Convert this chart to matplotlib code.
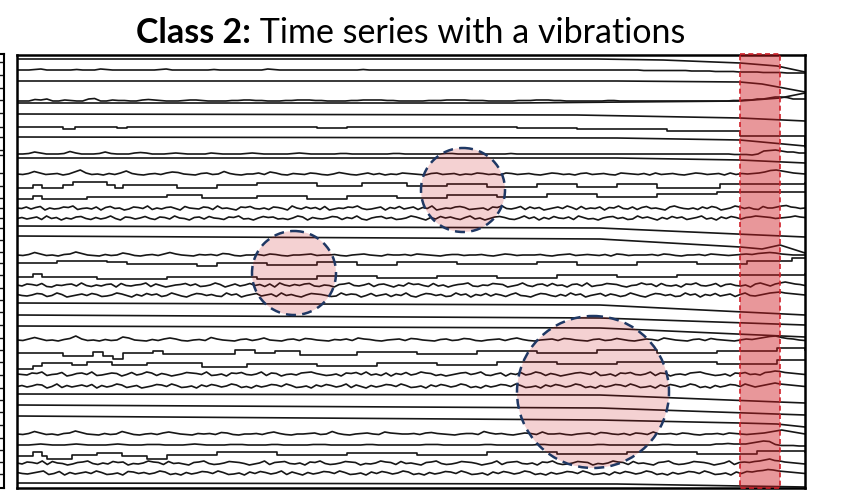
import numpy as np
import matplotlib.pyplot as plt
from matplotlib.patches import Rectangle, Circle

# time axis runs over 788 samples; channel levels are given in screen rows (top = 55)
T_END = 788

# smooth channels: (time, level) knots
flat_lines = [
    [(0, 59), (580, 59), (646, 60), (723, 63), (760, 66), (788, 72)],
    [(0, 81), (600, 81), (723, 82), (745, 84), (788, 92)],
    [(0, 103), (500, 103), (723, 101), (763, 98), (788, 93)],
    [(0, 114), (560, 115), (723, 118), (788, 121)],
    [(0, 137), (600, 138), (723, 140), (788, 146)],
    [(0, 158), (600, 158), (723, 160), (788, 163)],
    [(0, 226), (583, 228), (788, 237)],
    [(0, 236), (583, 239), (723, 247), (745, 249), (763, 245), (788, 253)],
    [(0, 303), (583, 305), (788, 315)],
    [(0, 315), (583, 318), (788, 325)],
    [(0, 326), (583, 328), (788, 337)],
    [(0, 394), (583, 395), (788, 403)],
    [(0, 405), (583, 408), (788, 415)],
    [(0, 416), (583, 420), (723, 423), (760, 424), (788, 427)],
    [(0, 483), (600, 484), (788, 487)],
]

# quantised channels: (time, level) change points
step_lines = [
    [(0, 127), (46, 129), (58, 127), (100, 128), (110, 127), (300, 128), (330, 127), (500, 128), (560, 129), (650, 131), (723, 136), (788, 147)],
    [(0, 188), (16, 185), (25, 188), (46, 185), (56, 182), (90, 185), (98, 188), (106, 185), (160, 188), (200, 185), (240, 183), (300, 186), (345, 183), (390, 186), (430, 184), (470, 187), (520, 184), (560, 187), (600, 184), (640, 188), (703, 184), (788, 183)],
    [(0, 199), (16, 196), (25, 199), (70, 197), (150, 195), (185, 198), (240, 196), (290, 199), (330, 196), (380, 198), (430, 195), (480, 197), (530, 194), (580, 197), (640, 194), (700, 192), (788, 192)],
    [(0, 263), (40, 261), (90, 262), (110, 264), (180, 266), (200, 263), (250, 265), (300, 262), (340, 265), (380, 262), (440, 264), (520, 262), (560, 265), (620, 262), (680, 264), (730, 261), (775, 258), (788, 258)],
    [(0, 277), (16, 274), (25, 277), (80, 279), (150, 277), (240, 279), (300, 276), (360, 278), (420, 276), (480, 278), (540, 275), (600, 277), (660, 275), (788, 274)],
    [(0, 353), (46, 356), (76, 352), (86, 356), (96, 359), (106, 353), (136, 351), (146, 354), (218, 350), (238, 353), (258, 351), (283, 355), (340, 352), (400, 354), (460, 351), (520, 353), (580, 350), (640, 353), (700, 351), (760, 348), (788, 350)],
    [(0, 369), (16, 366), (25, 363), (55, 365), (70, 362), (95, 365), (130, 363), (185, 367), (230, 364), (300, 366), (360, 363), (420, 365), (480, 362), (540, 364), (600, 362), (700, 364), (760, 360), (788, 360)],
    [(0, 456), (16, 452), (25, 456), (30, 459), (55, 455), (80, 453), (105, 456), (130, 459), (150, 455), (200, 452), (260, 455), (330, 453), (400, 455), (470, 452), (540, 454), (610, 452), (680, 454), (740, 451), (788, 452)],
]

# sampled channels: base level + base-36 code per sample ('i' = base, one step = 0.5 row, higher = up)
wavy_base = [70, 101, 154, 445]
wavy_codes = [
    "iiijkiiiiijiiikjiiiiiiiijkiiiiiiijiiiiiiiikjiiiiiiiiiiiiiijiiiiiiiiiiiiiiiiiiiiiiiiiiiiiiiiiiiiiiiiiiiiiihhhhhhhhggggffffeeeeddddcccc",
    "iiilkmiikjiimniikjjiiklkjiiijkkjiiiijjkkjjiiijjkkkjjiiiijjkkkkjjiiiiijjjkkkkjjjiiiiijjjkkkjjiiiiiiijjiiiiiiiiiiiiiiiiiiijjkkmmoqqpmmm",
    "iijmkiiijnkiiijmjiiiklkiiijkjiiiikjiiiijkjiiiiijkjiiiiijjiiiiiiijjiiiiiiijjiiiiiiiiijiiiiiiiiiiiiiiiiiiiiiiiiiiiiiiiiiiiiihhhgiopqommkk",
    "iiijkjiiijkjiiiijkjiiijjjiiiijkjiiiijjjiiiijjiiiiijjjiiiiiijjiiiiiiiijjjiiiiiiijjiiiiiiijjiiiiiiiijjiiiiiiiiijjiiiiiiikklkkkmoqpjhhhgg",
]

spiky_base = [174, 255, 340, 434]
spiky_codes = [
    "ihjnkhijgimqkhigjhkojhgijhkmlihgjkhinjhgiikhmkhgjihkjhgiljhgikhjgihkjihgjkhijgihkjhigkjhijhgikjhigjkhijhgkjihjgkhijhgikjhijgkhjijkmpqomkji",
    "ihjnkhigjkolihgjhimkhgijhknkihgjijhlkhgiijhkjhgiijkhiijhgijkihgjiijhkjihgijjhiijhgikjhiiijhgijkhijihjgkjhiiijhkjhgiijhkjihijkjlmnmkjiii",
    "ihknkhigjlqkhigjhiomihgjhkmkhgijhnkihgjkhjmihgjkhlkihgjikhmkjhgijkhlkihgjkhilkhgijkhkmjhgijkhlkihgjkhiljhgikjhmkihgjkhljihgikjlnpqnlkih",
    "ihjnkhigjkolihgjhinkhgijhkmkihgjijhlkhgiijhkmjhgiijkhinjhgijkihmkjiijhkljihgijjhnkijhgikjhmiijhgijkhlkihjgkjhmiijhkjhgiijhkjihijkmoqomki",
]

noisy_base = [208, 218, 285, 295, 374, 386, 463, 473]
noisy_codes = [
    "ihkgjleighkjmfhigkejlhiegkjhmfigjkhelihgkjfmhigekjlhgifkjhemigkhjflegihkjmhfgikejhlgikfjhmegihkljfghiekjmhgilfkhjegikhmjflgihkejimhgkfjlhigekmjhgifkhljegimkhjgfliikmnkjhi",
    "hjgikfmhjeigklhfjgimhekjgilhfkjgmihejkglihfkjmgheiljkghfimkejhgilkfjhmgeiklhjfgimkhejglikhfjmgiehkljgfimhkejglihkfmjgheiklhjfgmikhejglikfhjmgiekhljgjkmlkjhijkmkj",
    "igkjhlfeihjkgmhfigjkelhgijmfkhegijlhkfgimjehkgilhjfkemigjhklgfihejkmhgilfjkheigmjkhflgiehjkmgfihlkjegimhfjkglhiejkgmfhilkjgehimjkflhgiekjmhgilfjkhgiekmjgkmomkjh",
    "jhgilkfhmjegikhljfgimkhejglikfhmjgeilkhjgfmikehjlgikfmhjgeilkjhfgmikjehlgikfjhmgeilkhjfgmikejhlgkifjmhgeilkhfjgmikehjlgkifhmjgeilkhjfgmikejhlgikfjmhgikmnomlkji",
    "ihgkjmfhilegjkhmfgikjehlgimkfjhegilkjhmfgiekjlhgimfkjehigklmjhfgiekjlhmgifkejhlgimkjfhegiklhjmgfikejhlgimkfjhegikljhmfgiekjlhgimfkjehigklmjhfgiekjlhiglmonlkjih",
    "hjgilkehmfjgikhlejgimkfhjegilkhmjfgiekhljgimkfhejgilkhmjfgiekhljgimfkhejgilkhmjfgiekhljgimkfhejgilkhmjfgiekhljgimkfhejgilkhmjfgiekhljgimkfhejgilkhmjgikmomlkjih",
    "igkjhmflihegjkmhfigljkehgimkjflhigejkmhfgilkjhegimfjklhgiekjmhfgilkjehgimkjflhigejkmhfgilkjhegimfjklhgiekjmhfgilkjehgimkjflhigejkmhfgilkjhegimfjkjlmoqnmkjihg",
    "jhgikmfhlejgikhmjfgielkhjgimkfhejgilkhmjfgiekhljgimfkhejgilkhmjfgiekhljgimkfhejgilkhmjfgiekhljgimkfhejgilkhmjfgiekhljgimkfhejgilkhmjfgiekhlkmnpomlkjih",
]

# neighbouring panel (cut off at the left edge)
left_rows = [62, 75, 88, 100, 113, 127, 137, 150, 155, 173, 186, 198, 208, 218, 228, 240, 252, 263, 275, 288, 300, 312, 325, 338, 350, 362, 375, 388, 400, 412, 425, 438, 450, 462, 474]

# highlighted regions
band = (723, 763)
circles = [(446, 190, 42), (277, 273, 42), (576, 392, 76)]

LINE = "#161616"
LW = 1.2


def decode(base, code):
    v = np.array([int(c, 36) for c in code])
    return base - (v - 18) * 0.5


fig = plt.figure(figsize=(8.46, 4.90), dpi=100)
ax = fig.add_axes([17 / 846, 2 / 490, 788 / 846, 433 / 490])
ax.set_xlim(0, T_END)
ax.set_ylim(488, 55)

for knots in flat_lines:
    t, y = zip(*knots)
    ax.plot(t, y, color=LINE, lw=LW)

for knots in step_lines:
    t, y = zip(*knots)
    ax.plot(t, y, color=LINE, lw=LW, drawstyle="steps-post")

for base, code in zip(wavy_base, wavy_codes):
    y = decode(base, code)
    ax.plot(np.linspace(0, T_END, len(y)), y, color=LINE, lw=LW)

for base, code in zip(spiky_base, spiky_codes):
    y = decode(base, code)
    ax.plot(np.linspace(0, T_END, len(y)), y, color=LINE, lw=LW)

for base, code in zip(noisy_base, noisy_codes):
    y = decode(base, code)
    ax.plot(np.linspace(0, T_END, len(y)), y, color=LINE, lw=LW)

ax.add_patch(Rectangle((band[0], 54), band[1] - band[0], 434, facecolor=(0.80, 0.10, 0.12),
                       alpha=0.45, edgecolor="none", zorder=5, clip_on=False))
ax.add_patch(Rectangle((band[0], 54), band[1] - band[0], 434, facecolor="none",
                       edgecolor="#d0202a", lw=1.2, ls=(0, (3, 2)), zorder=6, clip_on=False))

for cx, cy, r in circles:
    ax.add_patch(Circle((cx, cy), r, facecolor=(0.80, 0.10, 0.12), alpha=0.2, edgecolor="none", zorder=5))
    ax.add_patch(Circle((cx, cy), r, facecolor="none", edgecolor="#1f3864", lw=1.8,
                        ls=(0, (4, 2.5)), zorder=6))

ax.set_xticks([])
ax.set_yticks([])
for s in ax.spines.values():
    s.set_linewidth(1.8)
    s.set_color("black")

ax2 = fig.add_axes([-0.1, 2 / 490, 0.1 + 4 / 846, 434 / 490])
ax2.set_xlim(0, 100)
ax2.set_ylim(488, 54)
ax2.hlines(left_rows, 0, 100, color=LINE, lw=1.0)
ax2.set_xticks([])
ax2.set_yticks([])
for s in ax2.spines.values():
    s.set_linewidth(1.5)

# title: bold prefix + regular remainder, centred over the panel
fs = 24.5
t1 = fig.text(0, 0.933, "Class 2:", fontsize=fs, fontweight="bold", family="Lato", va="center")
t2 = fig.text(0, 0.933, " Time series with a vibrations", fontsize=fs, family="Lato", va="center")
fig.canvas.draw()
r = fig.canvas.get_renderer()
w1 = t1.get_window_extent(r).width / 846
w2 = t2.get_window_extent(r).width / 846
x0 = (17 + 805) / 2 / 846 - (w1 + w2) / 2
t1.set_x(x0)
t2.set_x(x0 + w1)

fig.savefig("out.png", dpi=100)
